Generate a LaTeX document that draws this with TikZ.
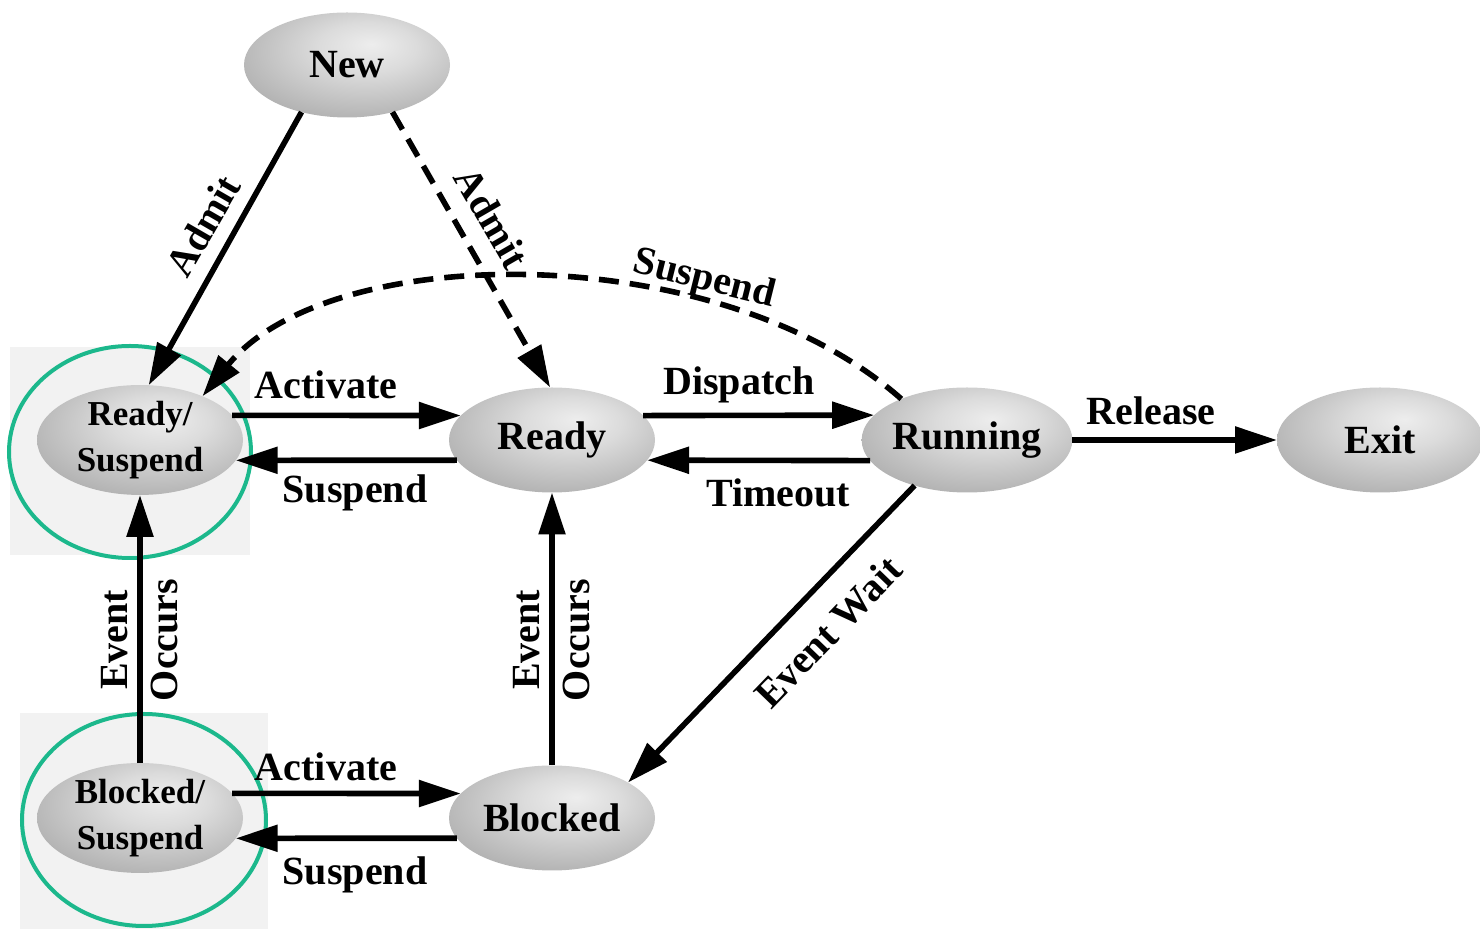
\documentclass[tikz,border=0pt]{standalone}
\usepackage{fontspec}
\setmainfont{Liberation Serif}
\usetikzlibrary{shapes.geometric,arrows.meta}

% soft grey "ball" shading for the states, lit a little above centre
\pgfdeclareradialshading{stateball}{\pgfpoint{6bp}{10bp}}{%
  color(0bp)=(white!93!black);
  color(12bp)=(white!86!black);
  color(34bp)=(white!68!black);
  color(52bp)=(white!54!black);
  color(70bp)=(white!54!black)}

\definecolor{ringgreen}{RGB}{28,184,140}
\definecolor{panelgrey}{RGB}{242,242,242}

\begin{document}
\begin{tikzpicture}[x=0.5pt,y=-0.5pt,
  state/.style={ellipse, minimum width=103pt, minimum height=52.5pt,
    inner sep=0pt, outer sep=0pt, shading=stateball,
    font=\fontsize{20}{24}\selectfont\bfseries},
  twoline/.style={align=center, font=\fontsize{17.5}{23}\selectfont\bfseries},
  lbl/.style={inner sep=0pt, font=\fontsize{20}{25}\selectfont\bfseries},
  arr/.style={line width=2.8pt, -{Triangle[length=21pt,width=13pt]}},
  dashedarr/.style={arr, dash pattern=on 10pt off 5.5pt},
  ring/.style={draw=ringgreen, line width=2pt},
  panel/.style={fill=panelgrey}]

\useasboundingbox (0,0) rectangle (1480,929);

% light panels and green rings around the suspended states
\fill[panel] (10,347) rectangle (250,555);
\fill[panel] (20,713) rectangle (268,929);
\draw[ring] (130,452) ellipse [x radius=121, y radius=106];
\draw[ring] (144,820) ellipse [x radius=122, y radius=106];

% states
\node[state] (new) at (347,65) {New};
\node[state,twoline] (rs) at (140,440) {Ready/\\Suspend};
\node[state] (rd) at (552,440) {Ready};
\node[state] (run) at (967,440) {Running};
\node[state] (ex) at (1380,440) {Exit};
\node[state] (bl) at (552,818) {Blocked};
\node[state,twoline] (bs) at (140,818) {Blocked/\\Suspend};

% transitions
\draw[arr] (new.226) -- (rs.81);
\draw[dashedarr] (new.-46) -- (rd.92);
\draw[dashedarr] (run.148) .. controls (720,238) and (330,240) .. (rs.35);
\draw[arr] (rs.15) -- (rd.165);
\draw[arr] (rd.192) -- (rs.-12);
\draw[arr] (rd.15) -- (run.165);
\draw[arr] (run.192) -- (rd.-12);
\draw[arr] (run.east) -- (ex.west);
\draw[arr] (run.-139) -- (bl.25);
\draw[arr] (bl.north) -- (rd.south);
\draw[arr] (bs.north) -- (rs.south);
\draw[arr] (bs.15) -- (bl.165);
\draw[arr] (bl.192) -- (bs.-12);

% transition labels
\node[lbl,rotate=60] (l-admit1) at (203,226) {Admit};
\node[lbl,rotate=-60] (l-admit2) at (492,218) {Admit};
\node[lbl,rotate=-14] (l-susp0) at (704,280) {Suspend};
\node[lbl] (l-act1) at (326,385) {Activate};
\node[lbl] (l-susp1) at (355,493) {Suspend};
\node[lbl] (l-disp) at (739,385) {Dispatch};
\node[lbl] (l-time) at (778,493) {Timeout};
\node[lbl] (l-rel) at (1151,411) {Release};
\node[lbl,rotate=46] (l-wait) at (828,632) {Event Wait};
\node[lbl,rotate=90,align=center] (l-occ1) at (140,640) {Event\\Occurs};
\node[lbl,rotate=90,align=center] (l-occ2) at (552,640) {Event\\Occurs};
\node[lbl] (l-act2) at (326,767) {Activate};
\node[lbl] (l-susp2) at (355,875) {Suspend};
\end{tikzpicture}
\end{document}
